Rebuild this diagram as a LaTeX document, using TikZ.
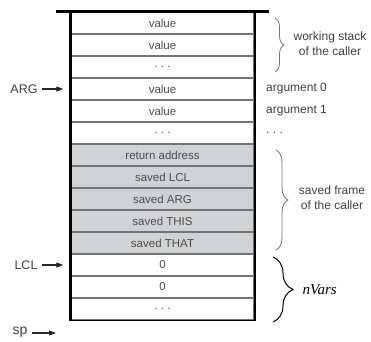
\documentclass[tikz,border=0pt]{standalone}
\usepackage{fontspec}
\setmainfont{Liberation Serif}
\setsansfont{Liberation Sans}
\usetikzlibrary{arrows.meta,decorations.pathreplacing}
\definecolor{framegray}{RGB}{208,211,214}

\begin{document}
\begin{tikzpicture}[x=1pt,y=-1pt,
	cell/.style={draw=black!55, line width=1.3pt, minimum width=183pt, minimum height=22pt, inner sep=0pt, text=black!70, font=\sffamily\fontsize{11.5}{13}\selectfont},
	ptr/.style={-{Triangle[length=7pt,width=5pt]}, line width=1.1pt, black!85},
	brc/.style={decorate, decoration={brace, amplitude=#1}, line width=0.8pt, black!55},
	lbl/.style={text=black!75, font=\sffamily\fontsize{12}{15}\selectfont, align=center, inner sep=2pt}]
	\useasboundingbox (0,0) rectangle (371,341);

	%%%%% STACK %%%%%
	\foreach \i/\txt/\fc in {1/value/white, 2/value/white, 3/{.\ .\ .}/white,
		4/value/white, 5/value/white, 6/{.\ .\ .}/white,
		7/return address/framegray, 8/saved LCL/framegray, 9/saved ARG/framegray,
		10/saved THIS/framegray, 11/saved THAT/framegray,
		12/0/white, 13/0/white, 14/{.\ .\ .}/white}
		\node[cell, fill=\fc] (c\i) at (162.5, {1+22*\i}) {\txt};

	\draw[line width=3pt] ([xshift=-14pt]c1.north west) -- ([xshift=14pt]c1.north east);
	\draw[line width=3pt] (c1.north west) -- (c14.south west);
	\draw[line width=2pt] (c1.north east) -- (c14.south east);
	\draw[line width=1.5pt] (c14.south west) -- (c14.south east);

	%%%%% POINTERS %%%%%
	\node[lbl, font=\sffamily\fontsize{12.5}{15}\selectfont] (arg) at (24,89) {ARG};
	\node[lbl, font=\sffamily\fontsize{12.5}{15}\selectfont] (lcl) at (26,265) {LCL};
	\node[lbl, font=\sffamily\fontsize{14}{16}\selectfont] (sp) at (20,332) {sp};
	\coordinate (spto) at (56,333);

	\draw[ptr, shorten <=2pt, shorten >=7pt] (arg) -- (c4.west);
	\draw[ptr, shorten <=2pt, shorten >=7pt] (lcl) -- (c12.west);
	\draw[ptr, shorten <=2pt] (sp.east |- spto) -- (spto);

	%%%%% RIGHT SIDE %%%%%
	\node[lbl, anchor=west] (arg0) at (264,89) {argument 0};
	\node[lbl, anchor=west] (arg1) at (264,111) {argument 1};
	\node[lbl, anchor=west] (argn) at (264,133) {.\ .\ .};

	\draw[brc=9pt] (275,18) -- (275,72);
	\node[lbl] (work) at (330,44) {working stack\\of the caller};

	\draw[brc=12pt] (276,150) -- (276,250);
	\node[lbl] (frame) at (332,198) {saved frame\\of the caller};

	\draw[brc=20pt, black, line width=1pt] (273,257) -- (273,322);
	\node[anchor=west, font=\itshape\fontsize{15}{17}\selectfont] (nvars) at (299,290) {nVars};
\end{tikzpicture}
\end{document}
